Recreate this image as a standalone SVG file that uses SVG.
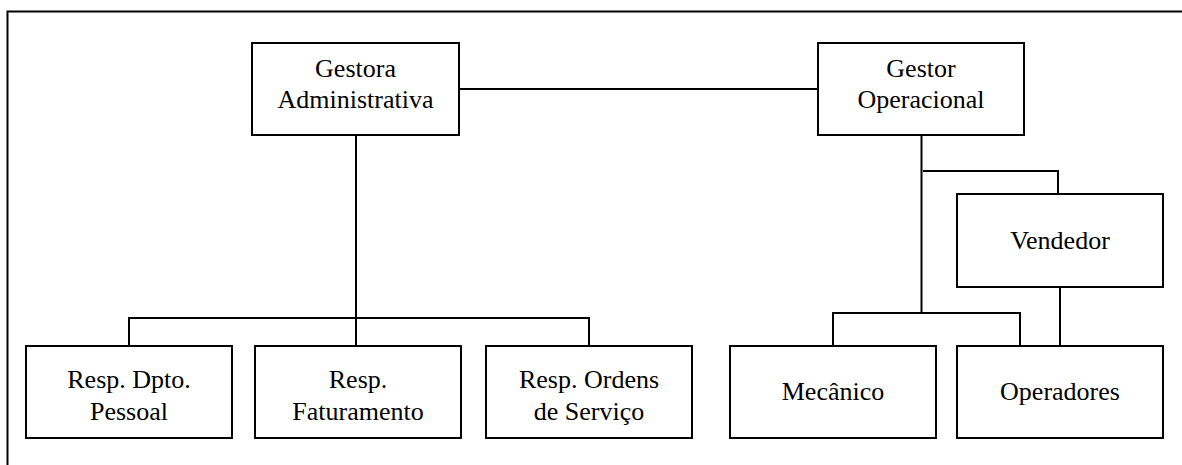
<svg xmlns="http://www.w3.org/2000/svg" width="1182" height="465" viewBox="0 0 1182 465">
<style>
rect.n{fill:#fff;stroke:#000;stroke-width:2}
text{font-family:"Liberation Serif","Times New Roman",serif;font-size:26px;fill:#000;text-anchor:middle}
.c line{stroke:#000;stroke-width:2}
</style>
<rect x="0" y="0" width="1182" height="465" fill="#fff"/>
<path d="M7.5 465 V11.5 H1182" fill="none" stroke="#000" stroke-width="2"/>
<g class="c" id="connectors">
<line x1="459" y1="89" x2="818" y2="89"/>
<line x1="356" y1="135" x2="356" y2="346"/>
<line x1="129" y1="318" x2="589" y2="318"/>
<line x1="129" y1="317" x2="129" y2="346"/>
<line x1="589" y1="317" x2="589" y2="346"/>
<line x1="921.5" y1="135" x2="921.5" y2="313"/>
<line x1="923" y1="171" x2="1058" y2="171"/>
<line x1="1058" y1="170" x2="1058" y2="194"/>
<line x1="832" y1="313" x2="1021" y2="313"/>
<line x1="833" y1="312" x2="833" y2="346"/>
<line x1="1020" y1="312" x2="1020" y2="346"/>
<line x1="1060" y1="287" x2="1060" y2="346"/>
</g>
<g id="gestora"><rect class="n" x="252" y="43" width="207" height="92"/><text x="355.5" y="77">Gestora</text><text x="355.5" y="108">Administrativa</text></g>
<g id="gestor"><rect class="n" x="818" y="43" width="206" height="92"/><text x="921" y="77">Gestor</text><text x="921" y="108">Operacional</text></g>
<g id="vendedor"><rect class="n" x="957" y="194" width="206" height="93"/><text x="1060" y="249">Vendedor</text></g>
<g id="pessoal"><rect class="n" x="26" y="346" width="206" height="92"/><text x="129" y="388">Resp. Dpto.</text><text x="129" y="420">Pessoal</text></g>
<g id="faturamento"><rect class="n" x="255" y="346" width="206" height="92"/><text x="358" y="388">Resp.</text><text x="358" y="420">Faturamento</text></g>
<g id="ordens"><rect class="n" x="486" y="346" width="206" height="92"/><text x="589" y="388">Resp. Ordens</text><text x="589" y="420">de Serviço</text></g>
<g id="mecanico"><rect class="n" x="730" y="346" width="206" height="92"/><text x="833" y="400">Mecânico</text></g>
<g id="operadores"><rect class="n" x="957" y="346" width="206" height="92"/><text x="1060" y="400">Operadores</text></g>
</svg>
